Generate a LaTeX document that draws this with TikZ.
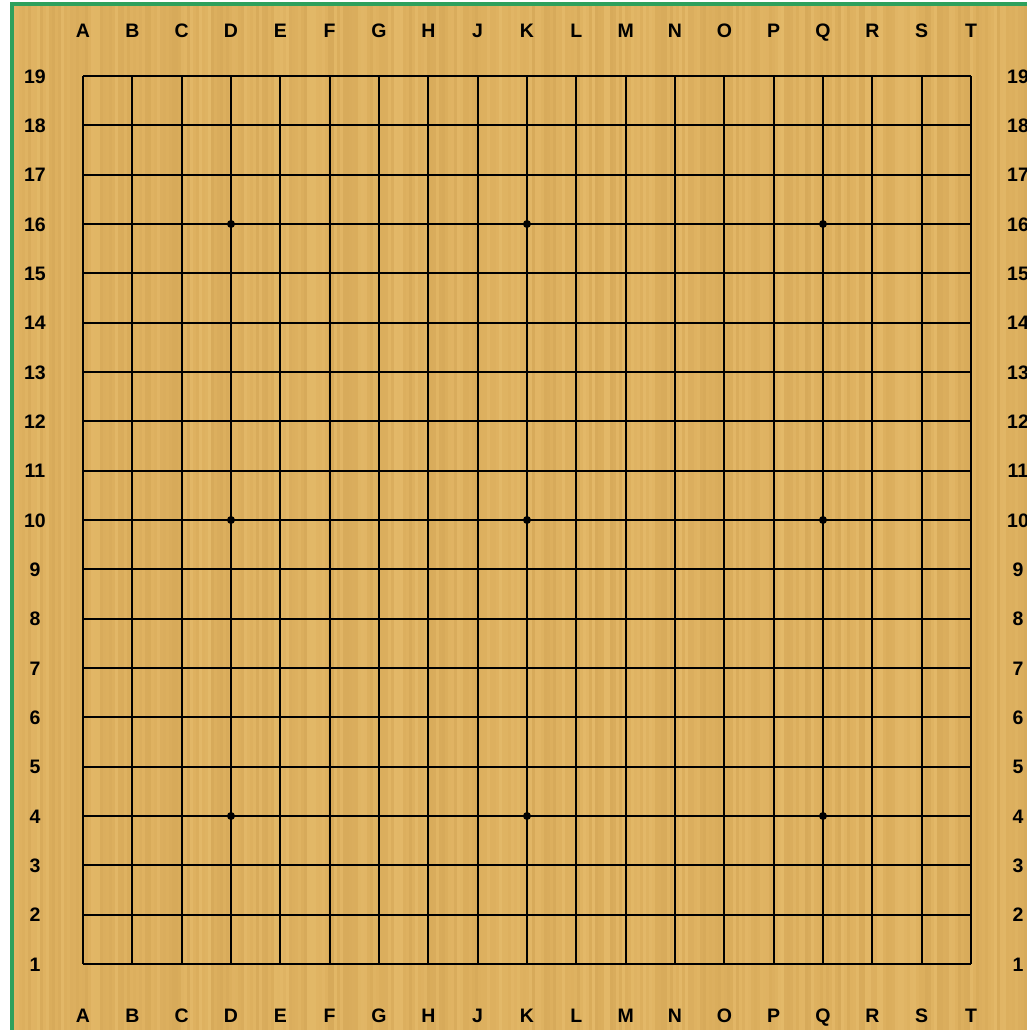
\documentclass[tikz,border=0pt]{standalone}
\usepackage{fontspec}
\setmainfont{Liberation Sans}
\definecolor{wood}{RGB}{222,177,96}
\definecolor{woodlight}{RGB}{234,194,115}
\definecolor{wooddark}{RGB}{208,163,84}
\definecolor{edge}{RGB}{46,160,92}
\tikzset{
  lab/.style={font=\bfseries\fontsize{19.5}{21}\selectfont, text=black, inner sep=0pt,
    text height=14pt, text depth=0pt, anchor=center},
  gridline/.style={line width=1.8pt, black},
  hoshi/.style={circle, fill=black, inner sep=0pt, minimum size=8pt},
}
\begin{document}
\begin{tikzpicture}[x=1pt,y=-1pt]
\useasboundingbox (0,0) rectangle (1027,1030);
\fill[white] (0,0) rectangle (1027,1030);
\fill[wood] (10,2) rectangle (1027,1030);
% wood texture
\pgfmathsetseed{11}
\foreach \i in {0,...,337}{
  \pgfmathsetmacro\o{rnd*0.5}
  \pgfmathsetmacro\w{rnd}
  \ifdim\w pt>0.5pt
    \fill[woodlight, opacity=\o] ({13+3*\i},6) rectangle ({16+3*\i},1030);
  \else
    \fill[wooddark, opacity=\o] ({13+3*\i},6) rectangle ({16+3*\i},1030);
  \fi
}
% green edges
\fill[edge] (10,2) rectangle (1027,6);
\fill[edge] (10,2) rectangle (13.5,1030);
% grid
\foreach \i in {0,...,18}{
  \pgfmathsetmacro\p{round(83+49.333*\i)}
  \draw[gridline] (\p,76) -- (\p,964);
  \pgfmathsetmacro\q{round(76+49.333*\i)}
  \draw[gridline] (83,\q) -- (971,\q);
}
% star points
\foreach \cx/\cy [count=\k] in {3/3,9/3,15/3,3/9,9/9,15/9,3/15,9/15,15/15}{
  \node[hoshi] (star\k) at ({round(83+49.333*\cx)},{round(76+49.333*\cy)}) {};
}
% column labels
\foreach \l [count=\k from 0] in {A,B,C,D,E,F,G,H,J,K,L,M,N,O,P,Q,R,S,T}{
  \node[lab] (top\l) at ({83+49.333*\k},31) {\l};
  \node[lab] (bot\l) at ({83+49.333*\k},1015) {\l};
}
% row labels
\foreach \r in {1,...,19}{
  \node[lab] (left\r) at (35,{964-49.333*(\r-1)}) {\r};
  \node[lab] (right\r) at (1018,{964-49.333*(\r-1)}) {\r};
}
\end{tikzpicture}
\end{document}
